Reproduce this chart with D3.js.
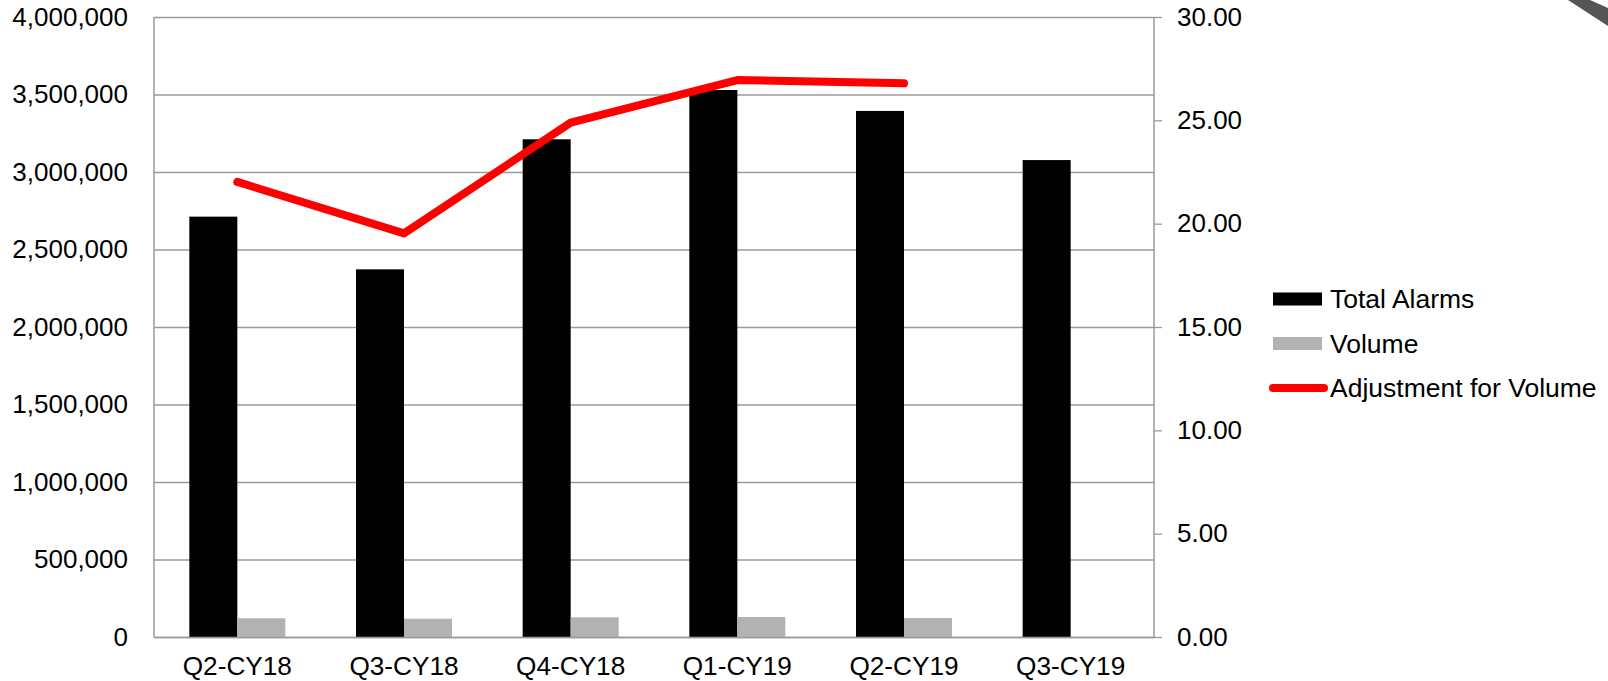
<!DOCTYPE html>
<html>
<head>
<meta charset="utf-8">
<script src="https://cdn.jsdelivr.net/npm/d3@7"></script>
<style>
  html, body { margin: 0; padding: 0; background: #fff; }
  svg { display: block; font-family: "Liberation Sans", Arial, sans-serif; }
</style>
</head>
<body>
<svg id="chart" width="1608" height="681"></svg>
<script>
const categories = ["Q2-CY18", "Q3-CY18", "Q4-CY18", "Q1-CY19", "Q2-CY19", "Q3-CY19"];
const totalAlarms = [2712000, 2372000, 3211000, 3529000, 3394000, 3077000];
const volume = [121000, 118000, 127000, 129000, 122000, null];
const adjustment = [22.02, 19.53, 24.89, 26.95, 26.79, null];
const leftTicks = [0, 500000, 1000000, 1500000, 2000000, 2500000, 3000000, 3500000, 4000000];
const rightTicks = [0, 5, 10, 15, 20, 25, 30];
const seriesNames = ["Total Alarms", "Volume", "Adjustment for Volume"];

const svg = d3.select("#chart");
const margin = { left: 154, right: 454, top: 17, bottom: 44 };
const W = 1608, H = 681;
const plotL = margin.left, plotR = W - margin.right, plotT = margin.top, plotB = H - margin.bottom;

const x = d3.scaleBand().domain(categories).range([plotL, plotR]).paddingInner(0).paddingOuter(0);
const barW = 48;
const x1 = d3.scaleBand().domain(["Total Alarms", "Volume"])
  .range([x.bandwidth() / 2 - barW, x.bandwidth() / 2 + barW]).padding(0);
const yL = d3.scaleLinear().domain([0, 4000000]).range([plotB, plotT]);
const yR = d3.scaleLinear().domain([0, 30]).range([plotB, plotT]);

const gridColor = "#9a9a9a";

// gridlines (left axis)
const gLeft = svg.append("g").attr("transform", `translate(${plotL},0)`)
  .call(d3.axisLeft(yL).tickValues(leftTicks).tickFormat(d3.format(",")).tickSize(-(plotR - plotL)).tickPadding(26));
gLeft.select(".domain").remove();
gLeft.selectAll(".tick line").attr("stroke", gridColor).attr("stroke-width", 1.3);
gLeft.selectAll(".tick text").attr("font-size", 26).attr("fill", "#000")
  .attr("font-family", "Liberation Sans, Arial, sans-serif");

// left axis line
svg.append("line").attr("x1", plotL).attr("x2", plotL).attr("y1", plotT).attr("y2", plotB)
  .attr("stroke", gridColor).attr("stroke-width", 1.5);

// right axis
const gRight = svg.append("g").attr("transform", `translate(${plotR},0)`)
  .call(d3.axisRight(yR).tickValues(rightTicks).tickFormat(d3.format(".2f")).tickSize(8).tickPadding(15));
gRight.select(".domain").attr("stroke", gridColor).attr("stroke-width", 1.5).attr("d", `M0,${plotT}V${plotB}`);
gRight.selectAll(".tick line").attr("stroke", gridColor).attr("stroke-width", 1.3);
gRight.selectAll(".tick text").attr("font-size", 26).attr("fill", "#000")
  .attr("font-family", "Liberation Sans, Arial, sans-serif");

// bars
const barData = [];
categories.forEach((c, i) => {
  barData.push({ cat: c, s: "Total Alarms", v: totalAlarms[i], color: "#000000" });
  if (volume[i] != null) barData.push({ cat: c, s: "Volume", v: volume[i], color: "#b2b2b2" });
});
svg.append("g").selectAll("rect").data(barData).join("rect")
  .attr("x", d => x(d.cat) + x1(d.s))
  .attr("width", x1.bandwidth())
  .attr("y", d => yL(d.v))
  .attr("height", d => yL(0) - yL(d.v))
  .attr("fill", d => d.color);

// bottom axis
const gBottom = svg.append("g").attr("transform", `translate(0,${plotB})`)
  .call(d3.axisBottom(x).tickSize(0).tickPadding(19.5));
gBottom.select(".domain").attr("stroke", gridColor).attr("stroke-width", 1.5);
gBottom.selectAll(".tick text").attr("font-size", 26.2).attr("fill", "#000")
  .attr("font-family", "Liberation Sans, Arial, sans-serif");

// line
const lineData = categories.map((c, i) => ({ cat: c, v: adjustment[i] })).filter(d => d.v != null);
const line = d3.line().x(d => x(d.cat) + x.bandwidth() / 2).y(d => yR(d.v));
svg.append("path").datum(lineData).attr("d", line)
  .attr("fill", "none").attr("stroke", "#ff0000").attr("stroke-width", 8)
  .attr("stroke-linecap", "round").attr("stroke-linejoin", "round");

// legend
const legend = svg.append("g").attr("transform", "translate(1273,299)");
const rowH = 44.5;
seriesNames.forEach((name, i) => {
  const g = legend.append("g").attr("transform", `translate(0,${i * rowH})`);
  if (i < 2) {
    g.append("rect").attr("x", 0).attr("y", -6.5).attr("width", 49).attr("height", 13)
      .attr("fill", i === 0 ? "#000000" : "#b2b2b2");
  } else {
    g.append("line").attr("x1", 0).attr("x2", 51).attr("y1", 0).attr("y2", 0)
      .attr("stroke", "#ff0000").attr("stroke-width", 8).attr("stroke-linecap", "round");
  }
  g.append("text").attr("x", 57).attr("y", 0).attr("dy", "0.35em")
    .attr("font-size", 26.5).attr("fill", "#000").text(name);
});

// corner decoration
svg.append("polygon").attr("points", "1568,0 1590,0 1608,8 1608,26").attr("fill", "#555");
</script>
</body>
</html>
